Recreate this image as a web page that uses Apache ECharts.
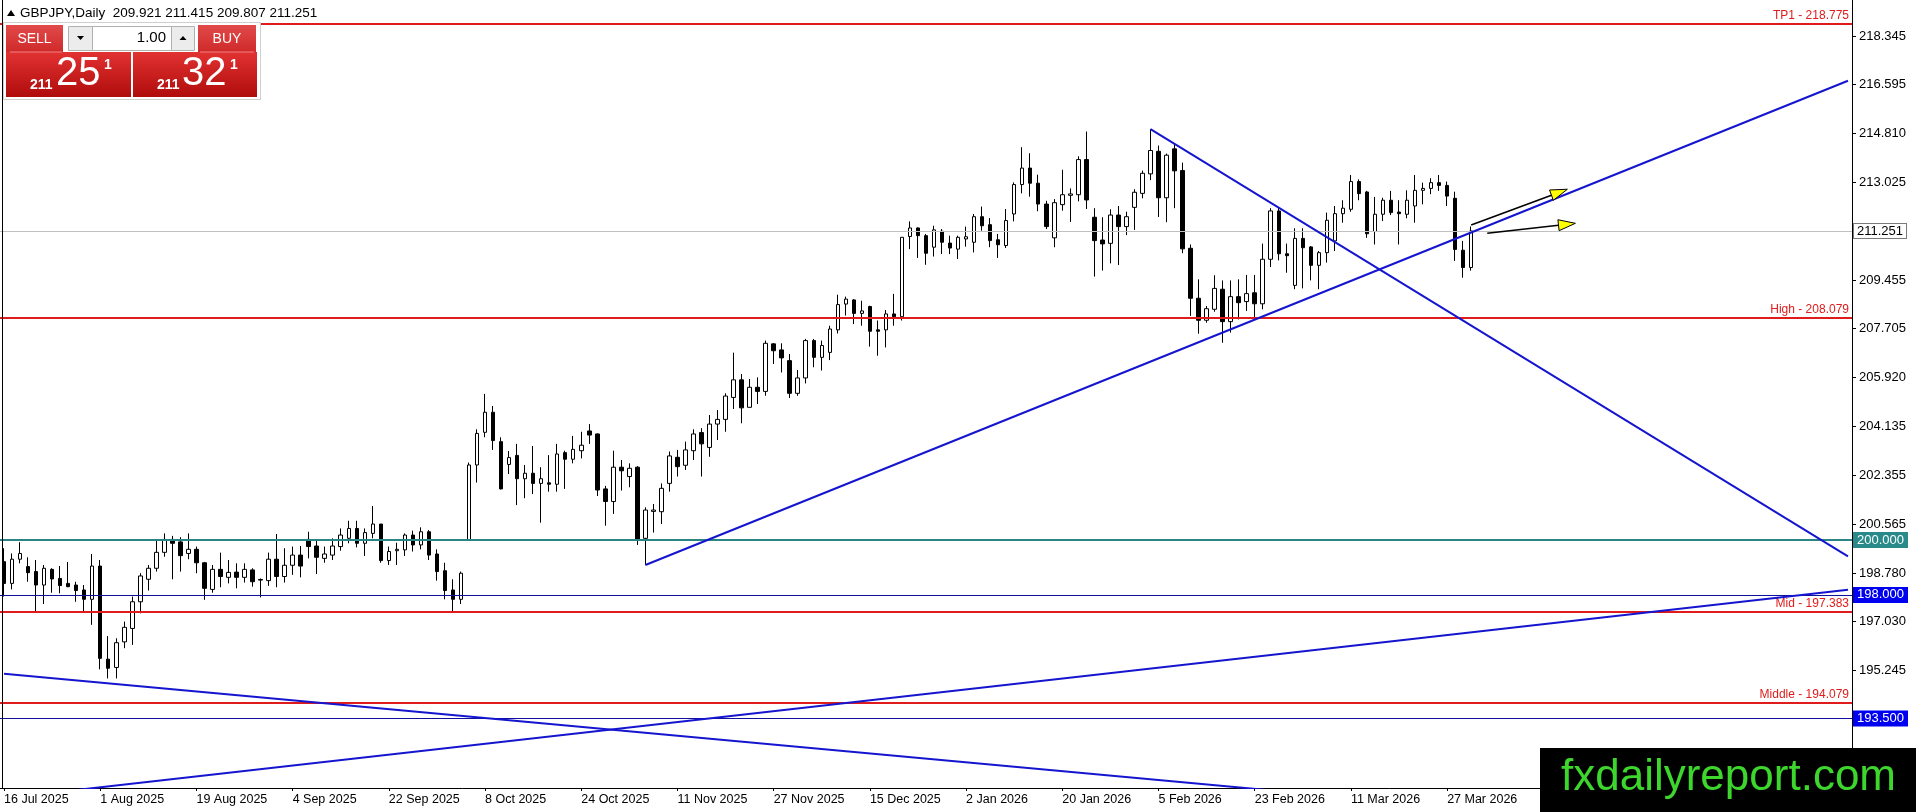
<!DOCTYPE html>
<html><head><meta charset="utf-8">
<script src="https://cdn.jsdelivr.net/npm/echarts@6/dist/echarts.min.js"></script>
<style>html,body{margin:0;padding:0;background:#fff;overflow:hidden}#c{width:1916px;height:812px}</style>
</head><body><div id="c"></div>
<script>
const tickLabels = ['16 Jul 2025','1 Aug 2025','19 Aug 2025','4 Sep 2025','22 Sep 2025','8 Oct 2025','24 Oct 2025','11 Nov 2025','27 Nov 2025','15 Dec 2025','2 Jan 2026','20 Jan 2026','5 Feb 2026','23 Feb 2026','11 Mar 2026','27 Mar 2026'];
const barsPerLabel = 12;
const slotCount = 231;

const opens = [199.21,198.42,199.30,199.03,198.85,198.36,198.93,198.60,198.42,198.36,
198.18,197.84,199.05,195.66,195.36,196.29,196.78,197.75,198.57,198.97,
199.55,200.02,199.93,199.51,199.66,199.17,198.20,198.93,198.64,198.83,
198.64,198.91,198.56,198.52,199.30,198.67,199.08,199.45,200.02,199.78,
199.33,199.45,199.76,200.06,200.42,199.88,200.24,200.58,199.25,199.61,
199.64,200.18,199.82,200.30,199.49,198.88,198.18,197.84,200.00,202.73,
203.92,204.65,203.58,202.75,203.08,202.23,202.43,202.06,202.08,202.03,
203.18,202.94,203.25,203.97,203.86,201.86,201.40,202.65,202.31,202.65,
200.06,201.04,201.03,202.06,203.01,202.72,203.25,203.91,203.37,204.22,
204.39,205.19,205.83,204.83,205.56,205.41,207.14,206.92,206.53,205.34,
205.90,207.26,206.65,206.83,207.65,208.59,208.74,208.25,208.50,207.65,
207.65,208.23,208.13,211.05,211.36,211.08,210.66,211.24,210.81,210.59,
210.96,210.84,211.77,211.48,210.93,210.72,211.87,212.94,213.54,212.99,
212.23,211.00,212.21,212.55,212.57,213.85,211.75,210.92,210.80,211.83,
211.41,212.11,212.62,213.33,214.15,212.46,214.24,213.45,210.62,208.80,
208.00,208.40,209.13,207.95,208.86,208.68,209.00,208.60,210.22,211.98,
210.42,209.27,210.98,210.67,210.00,210.46,210.89,211.88,212.04,213.05,
212.67,211.23,211.86,212.37,211.94,211.86,212.16,212.73,212.80,213.01,
212.91,212.44,210.55,209.921];
const highs = [199.70,199.51,199.92,199.37,199.27,199.09,198.97,199.05,199.20,198.48,
198.36,199.49,199.27,196.50,196.42,197.03,197.94,198.79,199.09,200.00,
200.24,200.15,200.10,200.24,199.76,199.20,199.09,199.54,199.27,199.15,
199.15,198.97,198.60,199.54,200.22,199.70,199.76,199.78,200.30,200.02,
199.76,200.06,200.42,200.70,200.70,200.42,201.24,200.58,199.76,199.90,
200.24,200.34,200.46,200.36,199.66,199.17,198.57,198.85,202.82,204.03,
205.32,204.88,203.74,203.24,203.50,202.73,203.42,202.65,203.09,203.50,
203.25,203.79,203.94,204.22,203.88,201.97,203.25,202.91,202.79,202.69,
201.19,201.31,202.06,203.22,203.28,203.58,204.03,204.07,204.55,204.73,
205.34,206.82,206.04,205.86,205.92,207.26,207.16,207.16,206.77,206.19,
207.32,207.32,207.26,207.80,208.93,208.86,208.77,208.71,208.53,207.99,
208.37,208.96,211.02,211.60,211.38,211.14,211.44,211.32,211.08,211.08,
211.41,211.87,212.14,211.72,211.14,212.05,213.02,214.30,214.08,213.30,
212.35,212.41,213.48,212.80,213.97,214.87,212.08,211.75,212.04,212.16,
211.95,212.77,213.45,214.96,214.36,214.07,214.42,213.74,210.76,209.49,
208.52,209.64,209.45,209.45,209.49,209.65,209.65,210.79,212.08,212.12,
210.79,211.35,211.35,210.70,210.52,211.92,212.16,212.37,213.29,213.13,
212.71,212.49,212.46,212.71,212.37,212.73,213.29,213.01,213.17,213.29,
213.05,212.68,210.89,211.415];
const lows = [197.94,198.20,199.15,198.48,197.39,197.67,198.08,198.06,198.28,197.75,
197.39,196.91,195.29,194.96,194.96,196.06,196.18,197.33,198.16,198.85,
199.39,198.57,198.85,199.30,198.79,197.82,198.08,198.28,198.42,198.24,
198.45,198.30,197.91,198.33,198.28,198.45,198.73,198.64,199.33,198.76,
199.17,199.27,199.61,199.88,199.73,199.42,200.06,199.17,199.09,199.09,
199.42,199.58,199.66,199.27,198.52,197.84,197.39,197.67,199.98,202.09,
203.74,203.28,201.84,202.40,201.27,201.52,201.67,200.63,201.76,201.76,
201.86,202.79,202.97,203.50,201.60,200.52,200.95,201.80,201.92,199.82,
199.09,200.27,200.58,201.76,202.31,202.55,202.91,202.31,203.03,203.64,
203.94,204.77,204.25,204.83,204.95,205.25,206.41,206.10,205.17,205.25,
205.70,206.29,206.17,206.55,207.52,208.17,207.86,207.80,207.04,206.71,
207.01,207.80,207.99,210.59,210.27,210.02,210.32,210.41,210.41,210.23,
210.68,210.47,211.26,210.66,210.27,210.63,211.60,212.62,212.50,211.97,
211.32,210.66,211.99,211.58,212.33,212.05,209.59,209.81,210.07,210.01,
211.10,211.29,212.44,213.10,211.76,211.57,212.08,210.44,208.16,207.51,
207.91,208.31,207.18,207.55,208.03,208.34,208.09,208.40,209.94,210.18,
209.73,209.13,209.16,209.45,209.13,210.10,210.52,211.55,211.95,212.37,
211.00,210.76,211.61,211.83,210.76,211.71,211.55,212.22,212.59,212.71,
212.16,210.16,209.55,209.807];
const closes = [198.42,199.30,199.51,198.81,198.36,198.97,198.58,198.34,198.30,198.16,
197.84,199.05,195.69,195.33,196.26,196.82,197.75,198.69,198.97,199.55,
200.02,199.88,199.43,199.66,199.17,198.24,198.93,198.67,198.82,198.64,
198.93,198.48,198.54,199.30,198.67,199.08,199.45,199.05,199.76,199.37,
199.49,199.78,200.18,200.42,199.88,200.27,200.58,199.25,199.58,199.66,
200.18,199.82,200.30,199.45,198.85,198.16,197.84,198.79,202.73,203.88,
204.65,203.62,201.86,203.00,202.23,202.43,202.06,202.23,202.03,203.13,
202.94,203.30,203.45,203.82,201.82,201.40,202.65,202.52,202.61,200.02,
201.09,201.09,201.88,203.06,202.67,203.28,203.86,203.50,204.22,204.39,
205.24,205.83,204.81,205.56,205.41,207.16,206.89,206.63,205.34,205.90,
207.26,206.65,207.08,207.68,208.57,208.77,208.25,208.34,207.60,207.60,
208.23,208.13,211.02,211.36,211.08,210.44,211.29,210.84,210.63,211.02,
211.04,211.77,211.44,210.90,210.75,211.63,212.94,213.54,212.99,212.23,
211.41,212.28,212.57,212.60,213.85,212.38,210.90,210.78,211.83,211.41,
211.77,212.66,213.35,214.18,212.46,214.01,213.44,210.60,208.80,208.00,
208.42,209.16,207.95,208.86,208.64,208.97,208.60,210.22,211.98,210.42,
210.35,210.98,210.64,210.00,210.46,211.64,211.88,212.08,213.05,212.61,
211.15,211.86,212.37,211.92,211.88,212.37,212.73,212.80,213.01,212.91,
212.52,210.58,209.921,211.251];

const yTickValues = [218.345,216.595,214.810,213.025,209.455,207.705,205.920,204.135,202.355,200.565,198.780,197.030,195.245];
const namedLevels = [['TP1',218.775],['High',208.079],['Mid',197.383],['Middle',194.079]];
const boxLevels = [[200.000,'teal'],[198.000,'blue'],[193.500,'blue'],[211.251,'bid']];
const trendLines = [
  [[80,199.09],[230,216.72]],
  [[143,214.96],[230,199.40]],
  [[0,195.13],[230,188.95]],
  [[0,190.60],[230,198.19]]
];
const arrows = [[183,211.47,195,212.77],[185,211.17,196,211.53]];
const header = 'GBPJPY,Daily  209.921 211.415 209.807 211.251';
const bidParts = ['211','25','1'];
const askParts = ['211','32','1'];
const lotText = '1.00';
const watermark = 'fxdailyreport.com';

const FONT = '"Liberation Sans", Arial, sans-serif';
const yMin = 190.97, yMax = 219.66;

const categories = Array.from({length: slotCount}, (_, i) => String(i));
const candles = opens.map((o, i) => [o, closes[i], lows[i], highs[i]]);
const showTick = (i) => i % barsPerLabel === 0 && i / barsPerLabel < tickLabels.length;

const RED = '#e01b1b';
const markData = [];
namedLevels.forEach(([n, v]) => markData.push({
  yAxis: v,
  lineStyle: {color: RED, width: 2, type: 'solid'},
  label: {show: true, position: 'insideEndTop', formatter: n + ' - ' + v.toFixed(3), color: RED,
          fontSize: 12, fontFamily: FONT, distance: [3, 2]}
}));
const boxStyle = {
  teal: {line: '#2a8484', w: 2, bg: '#2a8a8a', fg: '#fff', border: '#2a8a8a'},
  blue: {line: '#10109a', w: 1, bg: '#0000f0', fg: '#fff', border: '#0000f0'},
  bid:  {line: '#c0c0c0', w: 1, bg: '#ffffff', fg: '#000', border: '#7a7a7a'}
};
boxLevels.forEach(([v, k]) => {
  const s = boxStyle[k];
  markData.push({
    yAxis: v,
    lineStyle: {color: s.line, width: s.w, type: 'solid'},
    label: {show: true, position: 'end', formatter: v.toFixed(3), color: s.fg, backgroundColor: s.bg,
            borderColor: s.border, borderWidth: 1, padding: [1, 3, 0, 3], fontSize: 13, fontFamily: FONT, distance: 2}
  });
});

const series = [{
  type: 'candlestick',
  data: candles,
  barWidth: 4,
  z: 2,
  itemStyle: {color: '#ffffff', color0: '#000000', borderColor: '#000000', borderColor0: '#000000', borderWidth: 1},
  markLine: {symbol: 'none', silent: true, animation: false, z: 5, data: markData}
}];
trendLines.forEach(pts => series.push({
  type: 'line', data: pts, showSymbol: false, symbol: 'none', silent: true, z: 6, clip: true,
  lineStyle: {color: '#1515d0', width: 2}
}));
series.push({
  type: 'custom', data: arrows, z: 7, silent: true, clip: false,
  encode: {x: [0, 2], y: [1, 3]},
  renderItem: (params, api) => {
    const a = api.coord([api.value(0), api.value(1)]);
    const b = api.coord([api.value(2), api.value(3)]);
    const dx = b[0] - a[0], dy = b[1] - a[1], len = Math.hypot(dx, dy);
    const ux = dx / len, uy = dy / len, nx = -uy, ny = ux;
    const hl = 17, hw = 5.5;
    const base = [b[0] - ux * hl, b[1] - uy * hl];
    return {type: 'group', children: [
      {type: 'line', shape: {x1: a[0], y1: a[1], x2: base[0], y2: base[1]}, style: {stroke: '#000', lineWidth: 1.6}},
      {type: 'polygon', shape: {points: [b, [base[0] + nx * hw, base[1] + ny * hw], [base[0] - nx * hw, base[1] - ny * hw]]},
       style: {fill: '#ffff00', stroke: '#000', lineWidth: 1}}
    ]};
  }
});

const redGrad = (c1, c2) => new echarts.graphic.LinearGradient(0, 0, 0, 1, [{offset: 0, color: c1}, {offset: 1, color: c2}]);
const T = (text, x, y, font, fill, align) => ({type: 'text', z: 101, style: {text, x, y, font, fill, textAlign: align || 'left', textVerticalAlign: 'middle', align: align || 'left', verticalAlign: 'middle'}});
const R = (x, y, w, h, fill, stroke) => ({type: 'rect', z: 100, shape: {x, y, width: w, height: h}, style: {fill, stroke: stroke || null, lineWidth: 1}});

const graphics = [
  {type: 'line', z: 100, shape: {x1: 2.5, y1: 0, x2: 2.5, y2: 788}, style: {stroke: '#000', lineWidth: 1}},
  {type: 'polygon', z: 101, shape: {points: [[7, 16], [15, 16], [11, 10]]}, style: {fill: '#000'}},
  T(header, 20, 13, '13.5px ' + FONT, '#000'),
  R(3.5, 22.5, 257, 77, '#ffffff', '#cfcfcf'),
  R(6, 25, 57, 27, redGrad('#e24a4a', '#cf2a2a')),
  R(198, 25, 58, 27, redGrad('#e24a4a', '#cf2a2a')),
  R(6, 52, 125, 45, redGrad('#e23232', '#b00c0c')),
  R(133, 52, 124, 45, redGrad('#e23232', '#b00c0c')),
  {type: 'line', z: 101, shape: {x1: 10, y1: 52, x2: 62, y2: 52}, style: {stroke: '#f08080', lineWidth: 1}},
  {type: 'line', z: 101, shape: {x1: 200, y1: 52, x2: 254, y2: 52}, style: {stroke: '#f08080', lineWidth: 1}},
  R(68.5, 26.5, 24, 24, '#ececec', '#b0b0b0'),
  R(92.5, 26.5, 79, 24, '#ffffff', '#b0b0b0'),
  R(171.5, 26.5, 23, 24, '#ececec', '#b0b0b0'),
  {type: 'polygon', z: 101, shape: {points: [[77, 36], [84, 36], [80.5, 40]]}, style: {fill: '#000'}},
  {type: 'polygon', z: 101, shape: {points: [[179.5, 40], [186.5, 40], [183, 36]]}, style: {fill: '#000'}},
  T(lotText, 166, 38, '15px ' + FONT, '#000', 'right'),
  T('SELL', 34.5, 39, '14px ' + FONT, '#fff', 'center'),
  T('BUY', 227, 39, '14px ' + FONT, '#fff', 'center'),
  T(bidParts[0], 30, 85, 'bold 14px ' + FONT, '#fff'),
  T(bidParts[1], 56, 74, '40px ' + FONT, '#fff'),
  T(bidParts[2], 104, 65, 'bold 14px ' + FONT, '#fff'),
  T(askParts[0], 157, 85, 'bold 14px ' + FONT, '#fff'),
  T(askParts[1], 182, 74, '40px ' + FONT, '#fff'),
  T(askParts[2], 230, 65, 'bold 14px ' + FONT, '#fff'),
  R(1540, 748, 376, 64, '#000000'),
  T(watermark, 1561, 778, '44px ' + FONT, '#3dd62c')
];

const option = {
  animation: false,
  backgroundColor: '#ffffff',
  grid: {left: 0, right: 64, top: 0, bottom: 24, containLabel: false},
  xAxis: {
    type: 'category', data: categories, boundaryGap: true,
    axisLine: {show: true, lineStyle: {color: '#000', width: 1}},
    axisTick: {show: true, alignWithLabel: true, interval: showTick, length: 3, lineStyle: {color: '#000'}},
    axisLabel: {interval: showTick, formatter: (v, i) => tickLabels[i / barsPerLabel] || '', align: 'left',
                margin: 5, color: '#000', fontSize: 12.5, fontFamily: FONT, hideOverlap: false},
    splitLine: {show: false}
  },
  yAxis: {
    type: 'value', position: 'right', min: yMin, max: yMax,
    axisLine: {show: true, lineStyle: {color: '#000', width: 1}},
    axisTick: {show: true, customValues: yTickValues, length: 4, lineStyle: {color: '#000'}},
    axisLabel: {customValues: yTickValues, formatter: v => v.toFixed(3), margin: 7, color: '#000', fontSize: 13, fontFamily: FONT},
    splitLine: {show: false}
  },
  graphic: {elements: graphics},
  series
};
const chart = echarts.init(document.getElementById('c'), null, {renderer: 'canvas'});
chart.setOption(option);
</script></body></html>
